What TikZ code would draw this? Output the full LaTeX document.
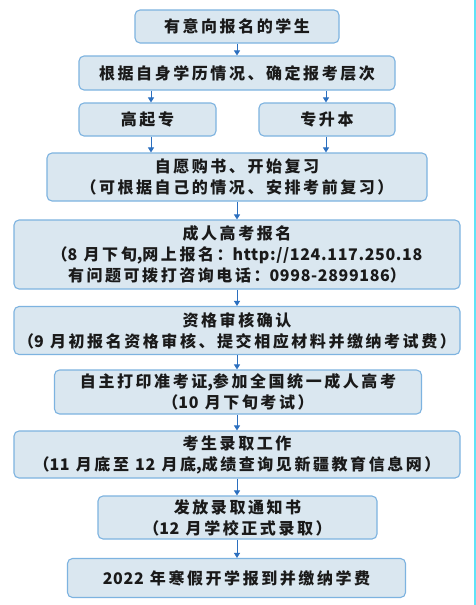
\documentclass[tikz,border=0pt]{standalone}
\usepackage{fontspec}
\setmainfont{Noto Sans CJK SC}[LetterSpace=16]
\newfontfamily\lat{Noto Sans CJK SC}[LetterSpace=4]
\usetikzlibrary{arrows.meta}
\definecolor{boxfill}{HTML}{DAE7F0}
\definecolor{boxline}{HTML}{7DB3E0}
\definecolor{arrowc}{HTML}{2B6FBF}
\definecolor{edgec}{HTML}{5FE3F7}
\definecolor{txt}{HTML}{1A1A1A}
\tikzset{
  stepbox/.style={draw=boxline, fill=boxfill, line width=1.1pt, rounded corners=5pt,
    align=center, inner sep=0pt, text=txt,
    font=\fontsize{16pt}{21pt}\selectfont\bfseries},
  flow/.style={draw=arrowc, line width=0.9pt, -{Triangle[width=6pt,length=5pt]}}
}
\begin{document}
\begin{tikzpicture}[x=1pt,y=-1pt]
\useasboundingbox (0,0) rectangle (476,605);
\fill[white] (0,0) rectangle (476,605);
\fill[edgec] (473.5,0) rectangle (475.5,605);
\node[stepbox, minimum width=204pt, minimum height=33pt] (b1) at (237,26.5) {有意向报名的学生};
\node[stepbox, minimum width=316pt, minimum height=34pt] (b2) at (237,73) {根据自身学历情况、确定报考层次};
\node[stepbox, minimum width=137pt, minimum height=33pt] (b3) at (147.5,119.5) {高起专};
\node[stepbox, minimum width=136pt, minimum height=33pt] (b4) at (327,119.5) {专升本};
\node[stepbox, minimum width=380pt, minimum height=48pt] (b5) at (237,177) {自愿购书、开始复习\\（可根据自己的情况、安排考前复习）};
\node[stepbox, minimum width=446pt, minimum height=69pt] (b6) at (237,254.5) {成人高考报名\\（{\lat 8} 月下旬{\lat ,}网上报名：{\lat http://124.117.250.18}\\有问题可拨打咨询电话：{\lat 0998-2899186}）};
\node[stepbox, minimum width=446pt, minimum height=48pt] (b7) at (237,330.5) {资格审核确认\\（{\lat 9} 月初报名资格审核、提交相应材料并缴纳考试费）};
\node[stepbox, minimum width=367pt, minimum height=44pt] (b8) at (238,392) {自主打印准考证{\lat ,}参加全国统一成人高考\\（{\lat 10} 月下旬考试）};
\node[stepbox, minimum width=446pt, minimum height=47pt] (b9) at (237,454.5) {考生录取工作\\（{\lat 11} 月底至 {\lat 12} 月底{\lat ,}成绩查询见新疆教育信息网）};
\node[stepbox, minimum width=279pt, minimum height=43pt] (b10) at (237.5,517.5) {发放录取通知书\\（{\lat 12} 月学校正式录取）};
\node[stepbox, minimum width=338pt, minimum height=39pt] (b11) at (236.5,578) {{\lat 2022} 年寒假开学报到并缴纳学费};
\coordinate (xl) at (151,0);
\coordinate (xr) at (326,0);
\coordinate (xc) at (237,0);
\draw[flow] (b1.south -| xc) -- (b2.north -| xc);
\draw[flow] (b2.south -| xl) -- (b3.north -| xl);
\draw[flow] (b2.south -| xr) -- (b4.north -| xr);
\draw[flow] (b3.south -| xl) -- (b5.north -| xl);
\draw[flow] (b4.south -| xr) -- (b5.north -| xr);
\draw[flow] (b5.south -| xc) -- (b6.north -| xc);
\draw[flow] (b6.south -| xc) -- (b7.north -| xc);
\draw[flow] (b7.south -| xc) -- (b8.north -| xc);
\draw[flow] (b8.south -| xc) -- (b9.north -| xc);
\draw[flow] (b9.south -| xc) -- (b10.north -| xc);
\draw[flow] (b10.south -| xc) -- (b11.north -| xc);
\end{tikzpicture}
\end{document}
